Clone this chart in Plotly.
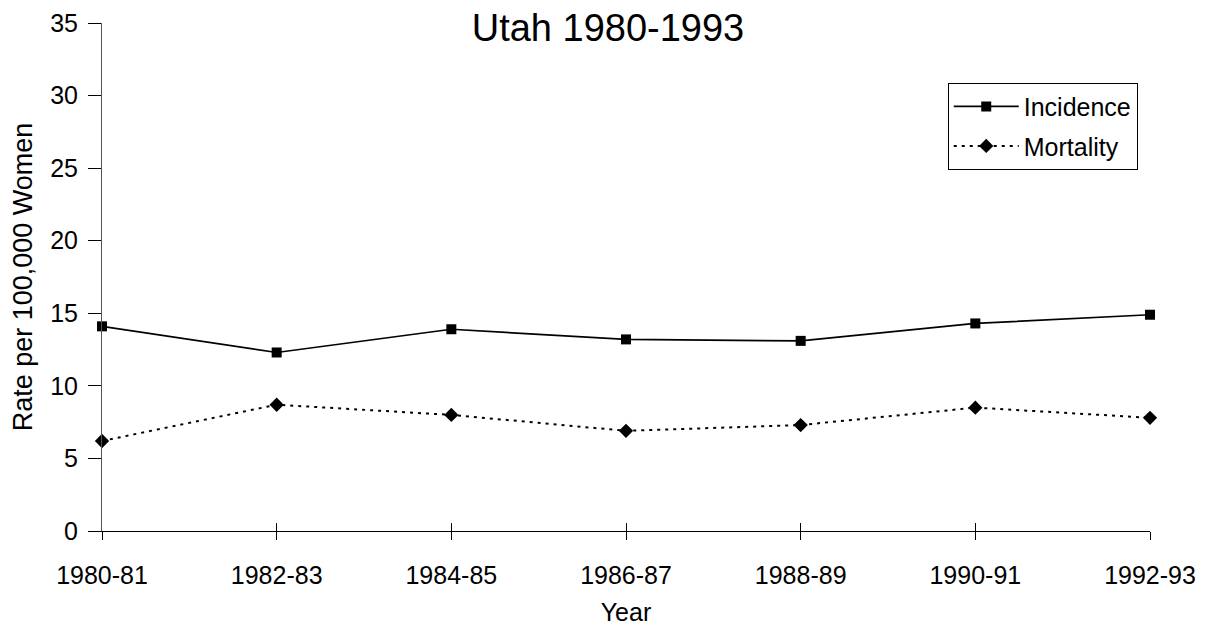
import plotly.graph_objects as go

categories = ["1980-81", "1982-83", "1984-85", "1986-87", "1988-89", "1990-91", "1992-93"]
incidence = [14.1, 12.3, 13.9, 13.2, 13.1, 14.3, 14.9]
mortality = [6.2, 8.7, 8.0, 6.9, 7.3, 8.5, 7.8]
y_ticks = [0, 5, 10, 15, 20, 25, 30, 35]

FONT = "Liberation Sans, Arial, sans-serif"

fig = go.Figure()
fig.add_trace(go.Scatter(
    x=categories, y=incidence, name="Incidence", mode="lines+markers",
    legendgroup="inc",
    line=dict(color="black", width=1.7),
    marker=dict(symbol="square", size=10, color="black"),
    cliponaxis=False,
))
fig.add_trace(go.Scatter(
    x=categories, y=mortality, name="Mortality", mode="lines+markers",
    legendgroup="mor",
    line=dict(color="black", width=2, dash="3px,5px"),
    marker=dict(symbol="diamond", size=11, color="black"),
    cliponaxis=False,
))
# invisible helper trace for the inside half of the crossing x ticks
fig.add_trace(go.Scatter(
    x=categories, y=incidence, xaxis="x2", mode="lines", opacity=0,
    showlegend=False, hoverinfo="skip",
))

# the page body adds an 8px margin, so the figure is sized to fit inside the window
fig.update_layout(
    width=1194, height=622,
    paper_bgcolor="white", plot_bgcolor="white",
    margin=dict(l=94, r=52, t=15, b=99),
    font=dict(family=FONT, size=25, color="black"),
    title=dict(text="Utah 1980-1993", font=dict(size=38, family=FONT, color="black"),
               x=0.5025, xref="container", xanchor="center",
               y=0.99, yref="container", yanchor="top", pad=dict(t=0, b=0),
               automargin=False),
    showlegend=True,
    legend=dict(x=0.807, y=0.8826, xanchor="left", yanchor="top",
                bordercolor="black", borderwidth=1, bgcolor="white",
                font=dict(size=25, family=FONT, color="black"),
                itemwidth=65, tracegroupgap=4),
    xaxis=dict(type="category", categoryarray=categories, range=[0, 6],
               automargin=False,
               showline=True, linecolor="black", linewidth=1,
               ticks="outside", ticklen=8, tickcolor="black", tickwidth=1,
               showgrid=False, zeroline=False,
               tickfont=dict(size=25, family=FONT), ticklabelstandoff=14,
               title=dict(text="Year", font=dict(size=25, family=FONT))),
    xaxis2=dict(type="category", categoryarray=categories, range=[0, 6],
                overlaying="x", anchor="y", side="bottom", automargin=False,
                ticks="inside", ticklen=8, tickcolor="black", tickwidth=1,
                showticklabels=False, showline=False, showgrid=False, zeroline=False),
    yaxis=dict(range=[0, 35.0005], tickvals=y_ticks, automargin=False,
               ticklabeloverflow="allow",
               showline=True, linecolor="#555", linewidth=1,
               ticks="outside", ticklen=13, tickcolor="black", tickwidth=1,
               showgrid=False, zeroline=False,
               tickfont=dict(size=25, family=FONT), ticklabelstandoff=5,
               title=dict(text="Rate per 100,000 Women", font=dict(size=27, family=FONT))),
)

fig.write_html("out.html")
